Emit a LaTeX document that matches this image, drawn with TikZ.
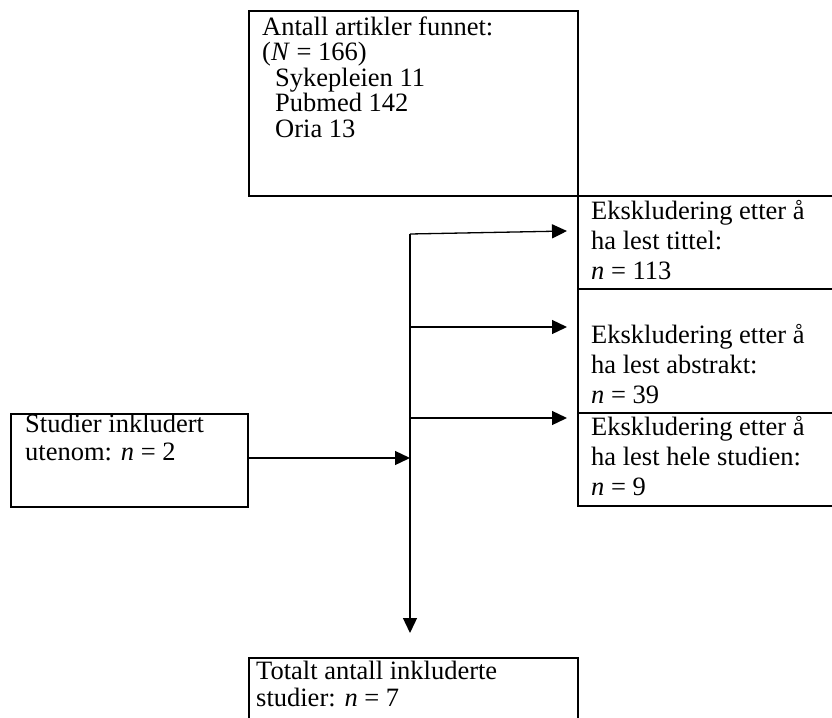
\documentclass[tikz,border=0pt]{standalone}
\usepackage{fontspec}
\setmainfont{Liberation Serif}
\usetikzlibrary{arrows.meta,calc}
\begin{document}
\begin{tikzpicture}[x=1pt,y=-1pt,
  box/.style={draw, line width=2pt, anchor=north west, inner sep=0pt},
  txt/.style={anchor=base west, inner sep=0pt, align=left, font=\fontsize{26.5}{30}\selectfont},
  txttop/.style={txt, font=\fontsize{26.5}{25.5}\selectfont},
  txtsmall/.style={txt, font=\fontsize{26.5}{26.5}\selectfont},
  arr/.style={line width=1.3pt, -{Triangle[length=15pt,width=14pt]}}]
\fill[white] (0,0) rectangle (832,717);
\useasboundingbox (0,0) rectangle (832,717);
\clip (0,0) rectangle (832,717);
% boxes
\node[box, minimum width=329pt, minimum height=185pt] (top) at (248,10) {};
\node[box, minimum width=268pt, minimum height=93pt] (e1) at (577,195) {};
\node[box, minimum width=268pt, minimum height=124pt] (e2) at (577,288) {};
\node[box, minimum width=268pt, minimum height=93pt] (e3) at (577,412) {};
\node[box, minimum width=237pt, minimum height=93pt] (inc) at (10,413) {};
\node[box, minimum width=329pt, minimum height=80pt] (bot) at (248,657) {};
% texts (anchored at the baseline of the last line)
\node[txttop] (ttop) at (262,137) {Antall artikler funnet:\\(\textit{N} = 166)\\\hspace{13pt}Sykepleien 11\\\hspace{13pt}Pubmed 142\\\hspace{13pt}Oria 13};
\node[txt] (te1) at (591,279) {Ekskludering etter å\\ha lest tittel:\\\textit{n} = 113};
\node[txt] (te2) at (591,403) {Ekskludering etter å\\ha lest abstrakt:\\\textit{n} = 39};
\node[txt] (te3) at (591,495) {Ekskludering etter å\\ha lest hele studien:\\\textit{n} = 9};
\node[txt, font=\fontsize{26.5}{27.5}\selectfont] (tinc) at (25,460) {Studier inkludert\\utenom: \textit{n} = 2};
\node[txtsmall] (tbot) at (256,706) {Totalt antall inkluderte\\studier: \textit{n} = 7};
% connectors
\coordinate (j1) at (410,234);
\coordinate (j2) at (410,327);
\coordinate (j3) at (410,418);
\coordinate (j4) at (410,458);
\draw[arr] (j1) -- ($(bot.north -| j1)+(0,-24)$);
\draw[arr] (j1) -- ($(e1.west |- j1)+(-10,-3)$);
\draw[arr] (j2) -- ($(e2.west |- j2)+(-10,0)$);
\draw[arr] (j3) -- ($(e3.west |- j3)+(-10,0)$);
\draw[arr] (inc.east |- j4) -- (j4);
\end{tikzpicture}
\end{document}
